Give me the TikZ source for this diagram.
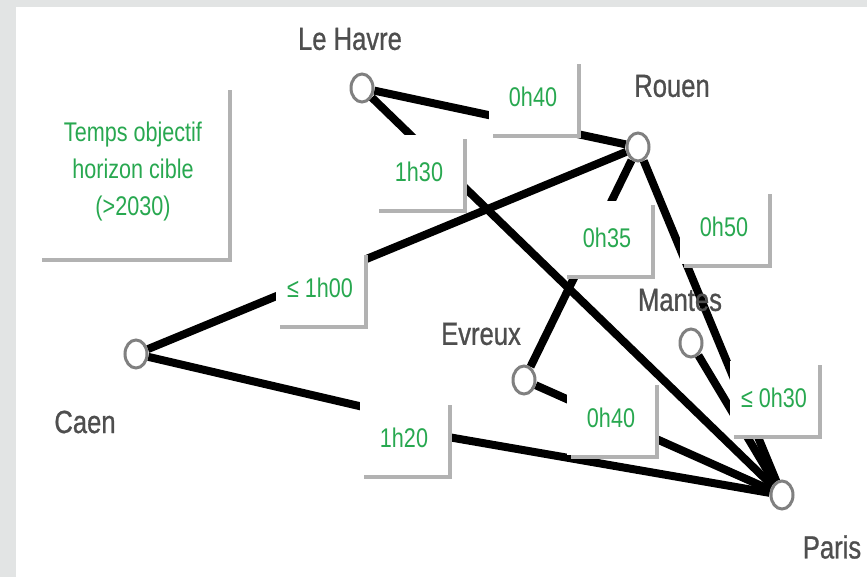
\documentclass[tikz,border=0pt]{standalone}
\usepackage{fontspec}
\setmainfont[FakeStretch=0.8]{Liberation Sans}
\newfontfamily\cityfont[FakeStretch=0.8,FakeBold=0.8]{Liberation Sans}
\usetikzlibrary{shapes.geometric,shadows}
\definecolor{tgreen}{RGB}{40,168,80}
\definecolor{cityg}{RGB}{78,78,78}
\definecolor{ring}{RGB}{128,128,128}
\definecolor{framegray}{RGB}{226,228,228}
\pgfdeclarelayer{back}\pgfdeclarelayer{edges}\pgfdeclarelayer{boxes}
\pgfsetlayers{back,edges,boxes,main}
\begin{document}
\begin{tikzpicture}[x=1pt,y=-1pt,
 town/.style={ellipse, draw=ring, line width=3pt, fill=white, minimum width=22pt, minimum height=28pt, inner sep=0pt},
 road/.style={line width=8pt, black},
 tbox/.style={fill=white, minimum width=88pt, minimum height=74pt, inner sep=0pt, text=tgreen,
   font=\fontsize{27}{32}\selectfont,
   drop shadow={shadow xshift=4pt, shadow yshift=-4pt, fill=black!30, opacity=1}},
 tname/.style={text=cityg, font=\cityfont\fontsize{32}{38}\selectfont, inner sep=0pt}]
\useasboundingbox (0,0) rectangle (867,577);
\begin{pgfonlayer}{back}
\fill[framegray] (0,0) rectangle (867,577);
\fill[white] (16,7) rectangle (867,577);
\end{pgfonlayer}

\node[town] (lh) at (362,88) {};
\node[town] (ro) at (638,147) {};
\node[town] (ca) at (136,354) {};
\node[town] (ev) at (524,380) {};
\node[town] (ma) at (691,343) {};
\node[town] (pa) at (782,495) {};
\coordinate (c1) at (372,409);
\coordinate (c2) at (448,437);

\begin{pgfonlayer}{edges}
\draw[road] (lh) -- (ro);
\draw[road] (lh) -- (pa);
\draw[road] (ro) -- (ca);
\draw[road] (ro) -- (ev);
\draw[road] (ro) -- (pa);
\draw[road] (ma) -- (pa);
\draw[road] (ca) -- (c1) -- (c2) -- (pa);
\draw[road] (ev) -- (pa);
\end{pgfonlayer}

\begin{pgfonlayer}{boxes}
\node[tbox, minimum width=190pt, minimum height=172pt, align=center,
  font=\fontsize{27}{37}\selectfont] (leg) at (133,172) {Temps objectif\\horizon cible\\(>2030)};
\node[tbox] (b1) at (533,97) {0h40};
\node[tbox] (b2) at (419,172) {1h30};
\node[tbox] (b3) at (320,288) {≤ 1h00};
\node[tbox] (b4) at (607,238) {0h35};
\node[tbox] (b5) at (724,227) {0h50};
\node[tbox] (b6) at (774,398) {≤ 0h30};
\node[tbox] (b7) at (404,438) {1h20};
\node[tbox] (b8) at (611,418) {0h40};
\end{pgfonlayer}

\node[tname] (lhl) at (350,39) {Le Havre};
\node[tname] (rol) at (672,86) {Rouen};
\node[tname] (cal) at (85,422) {Caen};
\node[tname] (evl) at (481,334) {Evreux};
\node[tname] (mal) at (680,300) {Mantes};
\node[tname] (pal) at (832,547) {Paris};
\end{tikzpicture}
\end{document}
